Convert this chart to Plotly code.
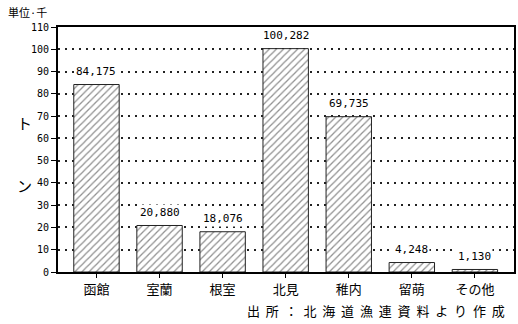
import plotly.graph_objects as go

# 地区別の漁獲量（千トン）
categories = ["函館", "室蘭", "根室", "北見", "稚内", "留萌", "その他"]
values_tons = [84175, 20880, 18076, 100282, 69735, 4248, 1130]
y_ticks = [0, 10, 20, 30, 40, 50, 60, 70, 80, 90, 100, 110]
source_text = "出所：北海道漁連資料より作成"

values_k = [v / 1000 for v in values_tons]
labels = [f"{v:,}" for v in values_tons]

MONO = "DejaVu Sans Mono"
CJK = "Noto Sans CJK JP"

fig = go.Figure()
fig.add_trace(go.Bar(
    x=list(range(len(categories))),
    y=values_k,
    width=0.72,
    marker=dict(
        color="white",
        line=dict(color="#222", width=1),
        pattern=dict(shape="/", fgcolor="#222", bgcolor="white", size=5, solidity=0.25),
    ),
    hoverinfo="skip",
))

# 値ラベル（白地で点線グリッドを隠す）
for i, (v, lab) in enumerate(zip(values_k, labels)):
    fig.add_annotation(
        x=i, y=v, text=lab, showarrow=False, yshift=13,
        font=dict(family=MONO, size=11, color="black"),
        bgcolor="white", borderpad=1,
    )

# 単位・縦書きの軸タイトル・出所
fig.add_annotation(xref="paper", yref="paper", x=-0.115, y=1.02, xanchor="left", yanchor="bottom",
                   text="単位·千", showarrow=False, font=dict(family=CJK, size=11, color="black"))
fig.add_annotation(xref="paper", yref="paper", x=-0.095, y=0.61, text="ト", showarrow=False,
                   font=dict(family=CJK, size=15, color="black"))
fig.add_annotation(xref="paper", yref="paper", x=-0.095, y=0.355, text="ン", showarrow=False,
                   font=dict(family=CJK, size=15, color="black"))
fig.add_annotation(xref="paper", yref="paper", x=0.985, y=-0.158, xanchor="right", yanchor="middle",
                   text=" &nbsp;".join(source_text), showarrow=False,
                   font=dict(family=CJK, size=13, color="black"))

fig.update_layout(
    width=518, height=324,
    margin=dict(l=58, r=2, t=27, b=52),
    paper_bgcolor="white", plot_bgcolor="white",
    showlegend=False,
    xaxis=dict(
        range=[-0.61, 6.62],
        tickmode="array", tickvals=list(range(len(categories))), ticktext=categories,
        tickfont=dict(family=CJK, size=13, color="black"),
        ticks="outside", ticklen=4, tickcolor="black",
        showgrid=False, zeroline=False,
        showline=True, linecolor="black", linewidth=2, mirror=True,
    ),
    yaxis=dict(
        range=[0, 110],
        tickmode="array", tickvals=y_ticks,
        tickfont=dict(family=MONO, size=10, color="black"),
        ticks="outside", ticklen=5, tickcolor="black",
        showgrid=True, gridcolor="#222", gridwidth=1.5, griddash="2px,5px",
        zeroline=False,
        showline=True, linecolor="black", linewidth=2, mirror=True,
        layer="below traces",
    ),
)

fig.write_html("out.html")
